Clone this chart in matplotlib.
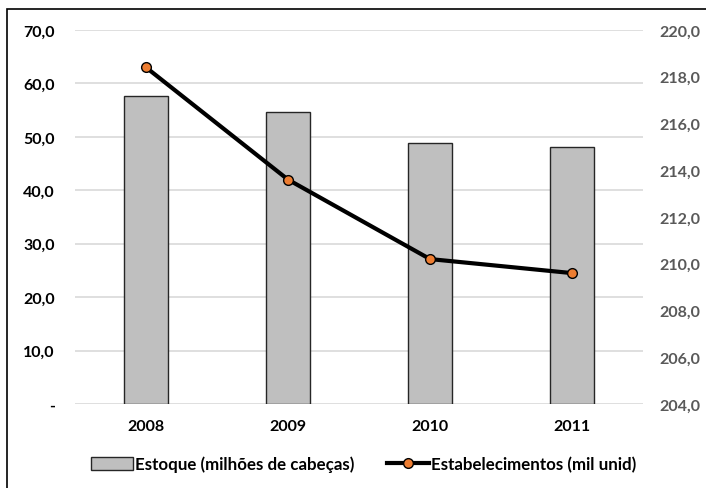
import matplotlib
matplotlib.use("Agg")
import matplotlib.pyplot as plt
from matplotlib.patches import Rectangle
from matplotlib.lines import Line2D
from matplotlib.patches import Patch
import matplotlib.ticker as mticker

years = ["2008", "2009", "2010", "2011"]
estoque = [57.7, 54.7, 48.8, 48.1]
estabelecimentos = [218.4, 213.6, 210.2, 209.6]
left_ticks = [0, 10, 20, 30, 40, 50, 60, 70]
right_ticks = [204, 206, 208, 210, 212, 214, 216, 218, 220]

plt.rcParams['font.family'] = ['Lato', 'DejaVu Sans']

fig = plt.figure(figsize=(7.06, 4.89), dpi=100)
ax = fig.add_axes([75/706, 1-405/489, (643-75)/706, (405-31)/489])
x = list(range(len(years)))
ax.bar(x, estoque, width=0.31, color="#BFBFBF", edgecolor="#262626", linewidth=1.0, zorder=2)
ax.set_ylim(0, 70)
ax.set_xlim(-0.5, 3.5)
ax.set_yticks(left_ticks)
def lfmt(v, p):
    if v == 0:
        return "-"
    return f"{v:.1f}".replace(".", ",")
ax.yaxis.set_major_formatter(mticker.FuncFormatter(lfmt))
ax.grid(axis="y", color="#D9D9D9", linewidth=1.2, zorder=0)
ax.set_axisbelow(True)
for s in ax.spines.values():
    s.set_visible(False)
ax.tick_params(axis="both", length=0, labelsize=11.5)
ax.tick_params(axis="y", pad=14.5)
ax.tick_params(axis="x", pad=11)
ax.set_xticks(x)
ax.set_xticklabels(years, fontweight="bold", fontsize=11.5)
for lab in ax.get_yticklabels():
    lab.set_fontweight("bold")

ax2 = ax.twinx()
ax2.plot(x, estabelecimentos, color="black", linewidth=3, marker="o", markersize=7,
         markerfacecolor="#ED7D31", markeredgecolor="black", markeredgewidth=1, zorder=3)
ax2.set_ylim(204, 220)
ax2.set_yticks(right_ticks)
ax2.yaxis.set_major_formatter(mticker.FuncFormatter(lambda v, p: f"{v:.1f}".replace(".", ",")))
for s in ax2.spines.values():
    s.set_visible(False)
ax2.tick_params(axis="y", length=0, labelsize=11.5, pad=12, labelcolor="#595959")
for lab in ax2.get_yticklabels():
    lab.set_fontweight("bold")

handles = [Patch(facecolor="#BFBFBF", edgecolor="#262626", linewidth=1.0),
           Line2D([0], [0], color="black", linewidth=3, marker="o", markersize=7,
                  markerfacecolor="#ED7D31", markeredgecolor="black")]
fig.legend(handles, ["Estoque (milhões de cabeças)", "Estabelecimentos (mil unid)"],
           loc="center", bbox_to_anchor=(363.5/706, 1-465/489), ncol=2, frameon=False,
           handlelength=2.5, handleheight=0.8, handletextpad=0.1, columnspacing=1.9,
           prop={"weight": "bold", "size": 12.2})

fig.patches.append(Rectangle((7/706, -0.1), 1.2, 1-10/489+0.1, transform=fig.transFigure,
                             fill=False, edgecolor="black", linewidth=1.2))
fig.savefig("out.png", dpi=100)
